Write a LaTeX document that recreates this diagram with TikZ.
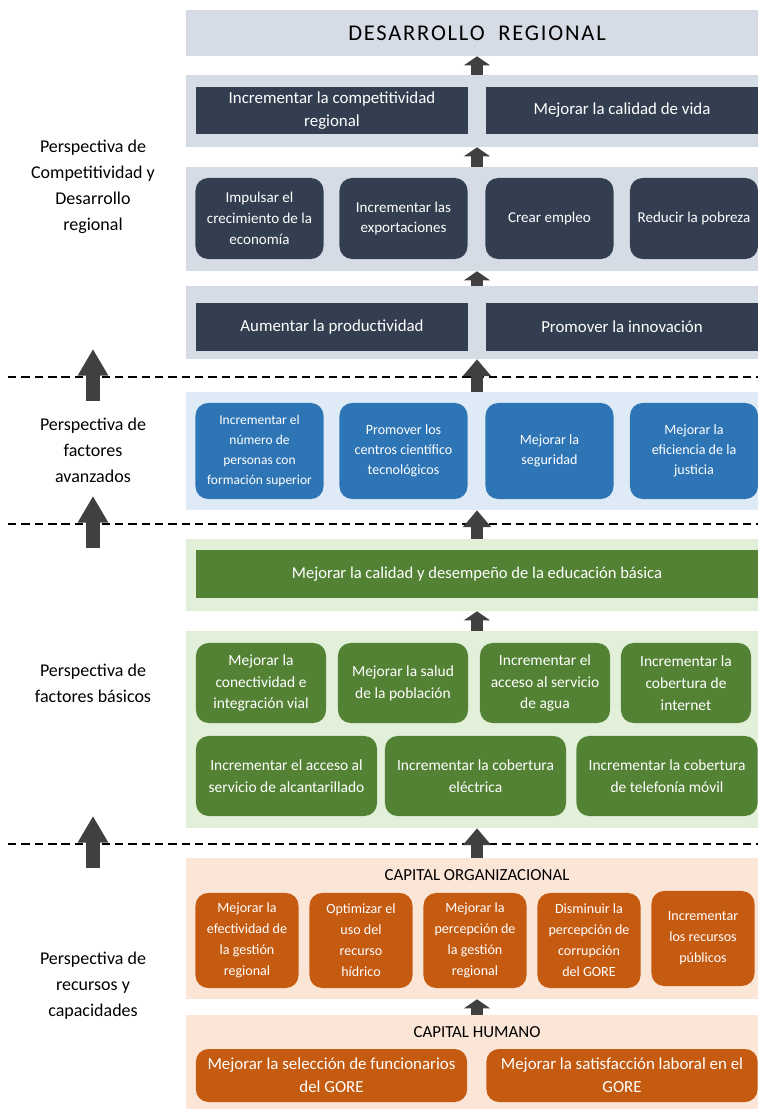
\documentclass[tikz,border=0pt]{standalone}
\usepackage{fontspec}
\setmainfont{Carlito}
\newfontfamily\spacedfont[LetterSpace=8]{Carlito}
\usepackage{tikz}
\usetikzlibrary{arrows.meta,positioning,calc}
\definecolor{mapband}{HTML}{D6DCE5}
\definecolor{mapdark}{HTML}{333F50}
\definecolor{mapblueband}{HTML}{DEEBF7}
\definecolor{mapblue}{HTML}{2E75B6}
\definecolor{mapgreenband}{HTML}{E2F0D9}
\definecolor{mapgreen}{HTML}{548235}
\definecolor{maporangeband}{HTML}{FBE5D6}
\definecolor{maporange}{HTML}{C55A11}
\definecolor{maparrow}{HTML}{404040}
\newcommand{\widefont}{\fontsize{12}{16.3}\selectfont}
\newcommand{\roundfont}{\fontsize{10.7}{14.9}\selectfont}
\newcommand{\bluefont}{\fontsize{10}{14.2}\selectfont}
\newcommand{\greenfont}{\fontsize{11}{15.6}\selectfont}
\newcommand{\orangefont}{\fontsize{10}{14.9}\selectfont}
\tikzset{
  band/.style={fill=#1, minimum width=14.55cm, inner sep=0pt},
  sqbox/.style={fill=#1, text=white, align=center, inner sep=2pt},
  rbox/.style={fill=#1, text=white, align=center, inner sep=2pt, rounded corners=9pt},
  uparrow/.style={-{Triangle[width=18.5pt,length=6.5pt]}, line width=8.4pt, maparrow},
  crossarrow/.style={-{Triangle[width=19.5pt,length=12pt]}, line width=8.4pt, maparrow},
  bigarrow/.style={-{Triangle[width=20.5pt,length=19pt]}, line width=10.6pt, maparrow},
  cutline/.style={dashed, dash pattern=on 6pt off 3.5pt, line width=0.9pt, black},
  persp/.style={align=center, font=\fontsize{12.8}{18.4}\selectfont},
  capfont/.style={font=\fontsize{12}{14}\selectfont}
}

\begin{document}
\begin{tikzpicture}[x=0.025cm, y=-0.025cm]
  \useasboundingbox (0,0) rectangle (757,1109);

  %% Competitividad y desarrollo regional
  \node[band=mapband, minimum height=1.15cm, font=\spacedfont\fontsize{16}{18}\selectfont] (band1) at (477,33) {DESARROLLO~~REGIONAL};

  \node[band=mapband, minimum height=1.8cm] (band2) at (477,111) {};
  \node[sqbox=mapdark, minimum width=6.8cm, minimum height=1.175cm, font=\widefont] (compet) at (332,110.5) {Incrementar la competitividad\\regional};
  \node[sqbox=mapdark, minimum width=6.8cm, minimum height=1.175cm, font=\widefont] (vida) at (622,110.5) {Mejorar la calidad de vida};

  \node[band=mapband, minimum height=2.6cm] (band3) at (477,219) {};
  \node[rbox=mapdark, minimum width=3.2cm, minimum height=2.025cm, font=\roundfont] (impulsar) at (259.5,218.5) {Impulsar el\\crecimiento de la\\economía};
  \node[rbox=mapdark, minimum width=3.2cm, minimum height=2.025cm, font=\roundfont] (exportar) at (403.5,218.5) {Incrementar las\\exportaciones};
  \node[rbox=mapdark, minimum width=3.2cm, minimum height=2.025cm, font=\roundfont] (empleo) at (549.5,218.5) {Crear empleo};
  \node[rbox=mapdark, minimum width=3.2cm, minimum height=2.025cm, font=\roundfont] (pobreza) at (694,218.5) {Reducir la pobreza};

  \node[band=mapband, minimum height=1.825cm] (band4) at (477,322.5) {};
  \node[sqbox=mapdark, minimum width=6.8cm, minimum height=1.2cm, font=\widefont] (productividad) at (332,327) {Aumentar la productividad};
  \node[sqbox=mapdark, minimum width=6.8cm, minimum height=1.2cm, font=\widefont] (innovacion) at (622,327) {Promover la innovación};

  %% Factores avanzados
  \node[band=mapblueband, minimum height=2.95cm] (band5) at (477,451) {};
  \node[rbox=mapblue, minimum width=3.2cm, minimum height=2.4cm, font=\fontsize{9.6}{14.2}\selectfont] (formacion) at (259.5,451) {Incrementar el\\número de\\personas con\\formación superior};
  \node[rbox=mapblue, minimum width=3.2cm, minimum height=2.4cm, font=\bluefont] (centros) at (403.5,451) {Promover los\\centros científico\\tecnológicos};
  \node[rbox=mapblue, minimum width=3.2cm, minimum height=2.4cm, font=\bluefont] (seguridad) at (549.5,451) {Mejorar la\\seguridad};
  \node[rbox=mapblue, minimum width=3.2cm, minimum height=2.4cm, font=\bluefont] (justicia) at (694,451) {Mejorar la\\eficiencia de la\\justicia};

  %% Factores basicos
  \node[band=mapgreenband, minimum height=1.8cm] (band6) at (477,575) {};
  \node[sqbox=mapgreen, minimum width=14.05cm, minimum height=1.2cm, font=\fontsize{11.8}{14}\selectfont] (educacion) at (477,574) {Mejorar la calidad y desempeño de la educación básica};

  \node[band=mapgreenband, minimum height=4.925cm] (band7) at (477,729.5) {};
  \node[rbox=mapgreen, minimum width=3.25cm, minimum height=2cm, font=\greenfont] (vial) at (261,683) {Mejorar la\\conectividad e\\integración vial};
  \node[rbox=mapgreen, minimum width=3.25cm, minimum height=2cm, font=\greenfont] (salud) at (403,683) {Mejorar la salud\\de la población};
  \node[rbox=mapgreen, minimum width=3.25cm, minimum height=2cm, font=\greenfont] (agua) at (545,683) {Incrementar el\\acceso al servicio\\de agua};
  \node[rbox=mapgreen, minimum width=3.25cm, minimum height=2cm, font=\greenfont] (internet) at (686,683) {Incrementar la\\cobertura de\\internet};
  \node[rbox=mapgreen, minimum width=4.525cm, minimum height=2cm, font=\greenfont] (alcantarillado) at (286.5,776) {Incrementar el acceso al\\servicio de alcantarillado};
  \node[rbox=mapgreen, minimum width=4.525cm, minimum height=2cm, font=\greenfont] (electrica) at (475.5,776) {Incrementar la cobertura\\eléctrica};
  \node[rbox=mapgreen, minimum width=4.525cm, minimum height=2cm, font=\greenfont] (movil) at (667,776) {Incrementar la cobertura\\de telefonía móvil};

  %% Recursos y capacidades
  \node[band=maporangeband, minimum height=3.525cm] (band8) at (477,928.5) {};
  \node[capfont] (orgcap) at (477,875) {CAPITAL ORGANIZACIONAL};
  \node[rbox=maporange, minimum width=2.575cm, minimum height=2.375cm, font=\orangefont] (efectividad) at (247,940.5) {Mejorar la\\efectividad de\\la gestión\\regional};
  \node[rbox=maporange, minimum width=2.575cm, minimum height=2.375cm, font=\orangefont] (hidrico) at (361,940.5) {Optimizar el\\uso del\\recurso\\hídrico};
  \node[rbox=maporange, minimum width=2.575cm, minimum height=2.375cm, font=\orangefont] (percepcion) at (475,940.5) {Mejorar la\\percepción de\\la gestión\\regional};
  \node[rbox=maporange, minimum width=2.575cm, minimum height=2.375cm, font=\orangefont] (corrupcion) at (589,940.5) {Disminuir la\\percepción de\\corrupción\\del GORE};
  \node[rbox=maporange, minimum width=2.575cm, minimum height=2.375cm, font=\orangefont] (recursos) at (703,938.5) {Incrementar\\los recursos\\públicos};

  \node[band=maporangeband, minimum height=2.35cm] (band9) at (477,1062) {};
  \node[capfont] (humcap) at (477,1032) {CAPITAL HUMANO};
  \node[rbox=maporange, minimum width=6.78cm, minimum height=1.325cm, font=\widefont] (seleccion) at (331.5,1075.5) {Mejorar la selección de funcionarios\\del GORE};
  \node[rbox=maporange, minimum width=6.78cm, minimum height=1.325cm, font=\widefont] (satisfaccion) at (622,1075.5) {Mejorar la satisfacción laboral en el\\GORE};

  %% Perspectivas
  \node[persp] (perspcomp) at (93,186.5) {Perspectiva de\\Competitividad y\\Desarrollo\\regional};
  \node[persp] (perspav) at (93,450) {Perspectiva de\\factores\\avanzados};
  \node[persp] (perspbas) at (93,683) {Perspectiva de\\factores básicos};
  \node[persp] (persprec) at (93,986) {Perspectiva de\\recursos y\\capacidades};

  %% Cortes entre perspectivas
  \coordinate (corte1) at (93,377);
  \coordinate (corte2) at (93,524);
  \coordinate (corte3) at (93,844);
  \draw[cutline] (8,377) -- (770,377);
  \draw[cutline] (8,524) -- (770,524);
  \draw[cutline] (8,844) -- (770,844);

  \draw[bigarrow] ([yshift=-0.6cm]corte1) -- ([yshift=0.7cm]corte1);
  \draw[bigarrow] ([yshift=-0.6cm]corte2) -- ([yshift=0.7cm]corte2);
  \draw[bigarrow] ([yshift=-0.6cm]corte3) -- ([yshift=0.7cm]corte3);

  %% Flechas centrales
  \coordinate (eje) at (477,0);
  \draw[uparrow] (eje |- band2.north) -- (eje |- band1.south);
  \draw[uparrow] (eje |- band3.north) -- (eje |- band2.south);
  \draw[uparrow] (eje |- band4.north) -- (eje |- band3.south);
  \draw[crossarrow] (eje |- band5.north) -- (eje |- band4.south);
  \draw[crossarrow] (eje |- band6.north) -- (eje |- band5.south);
  \draw[uparrow] (eje |- band7.north) -- (eje |- band6.south);
  \draw[crossarrow] (eje |- band8.north) -- (eje |- band7.south);
  \draw[uparrow] (eje |- band9.north) -- (eje |- band8.south);
\end{tikzpicture}
\end{document}
